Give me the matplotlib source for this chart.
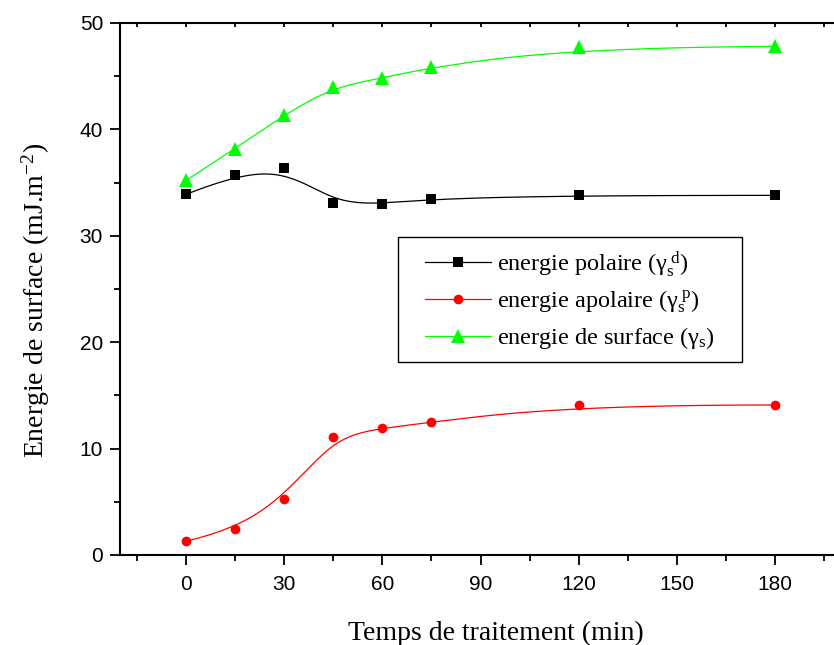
import numpy as np
import matplotlib
matplotlib.use("Agg")
import matplotlib.pyplot as plt
from matplotlib.patches import Rectangle
from matplotlib.lines import TICKDOWN

plt.rcParams["font.family"] = ["Liberation Serif", "DejaVu Serif"]
plt.rcParams["mathtext.fontset"] = "custom"
plt.rcParams["mathtext.rm"] = "Liberation Serif"
plt.rcParams["mathtext.it"] = "Liberation Serif:italic"

# Treatment time (min)
temps = [0, 15, 30, 45, 60, 75, 120, 180]
# Surface energy components (mJ.m-2)
polaire = [33.9, 35.7, 36.4, 33.1, 33.0, 33.5, 33.8, 33.8]
apolaire = [1.3, 2.4, 5.3, 11.1, 11.9, 12.5, 14.1, 14.1]
surface = [35.2, 38.2, 41.4, 44.0, 44.8, 45.9, 47.7, 47.8]

x_ticks = [0, 30, 60, 90, 120, 150, 180]
y_ticks = [0, 10, 20, 30, 40, 50]


def bspline(xs, ys, num=400, k=3):
    """Clamped uniform B-spline using the data points as control points."""
    P = np.column_stack([xs, ys]).astype(float)
    n = len(P)
    inner = np.linspace(0, 1, n - k + 1)
    knots = np.concatenate([[0] * k, inner, [1] * k])
    out = []
    for t in np.linspace(0, 1, num):
        s = n - 1 if t >= 1 else np.searchsorted(knots, t, side="right") - 1
        d = [P[j + s - k].copy() for j in range(k + 1)]
        for r in range(1, k + 1):
            for j in range(k, r - 1, -1):
                i = j + s - k
                denom = knots[i + k + 1 - r] - knots[i]
                a = 0 if denom == 0 else (t - knots[i]) / denom
                d[j] = (1 - a) * d[j - 1] + a * d[j]
        out.append(d[k])
    out = np.array(out)
    return out[:, 0], out[:, 1]


W, H = 834, 645
fig = plt.figure(figsize=(W / 100, H / 100), dpi=100)
px_per_min = 3.272
x_left, x_right = -20.2, 201
ax_w = (x_right - x_left) * px_per_min
ax = fig.add_axes([120 / W, 1 - 555 / H, ax_w / W, (555 - 23) / H])

series = [
    (polaire, "black", "s", 6.5, "energie polaire (γ$_{\\rm s}^{\\ \\rm d}$)"),
    (apolaire, "#ff0000", "o", 7.0, "energie apolaire (γ$_{\\rm s}^{\\ \\rm p}$)"),
    (surface, "#00ff00", "^", 10.5, "energie de surface (γ$_{\\rm s}$)"),
]
handles = []
for vals, col, mk, ms, lab in series:
    cx, cy = bspline(temps, vals)
    ax.plot(cx, cy, color=col, lw=0.9, zorder=2)
    ax.plot(temps, vals, linestyle="none", marker=mk, ms=ms, color=col,
            markeredgewidth=0, zorder=3)
    h, = ax.plot([], [], color=col, lw=0.9, marker=mk, ms=ms,
                 markeredgewidth=0, label=lab)
    handles.append(h)

ax.set_xlim(x_left, x_right)
ax.set_ylim(0, 50)
ax.set_xticks(x_ticks)
ax.set_xticks(np.arange(-15, 200, 15), minor=True)
ax.set_yticks(y_ticks)
ax.set_yticks(np.arange(5, 50, 10), minor=True)

for sp in ax.spines.values():
    sp.set_linewidth(1.5)

ax.tick_params(axis="both", which="major", direction="out", length=7.2, width=1.3,
               labelsize=15, labelfontfamily="Liberation Sans")
ax.tick_params(axis="x", which="major", pad=7.5)
ax.tick_params(axis="y", which="major", pad=5)
ax.tick_params(axis="both", which="minor", direction="out", length=4.5, width=1.3)
ax.tick_params(axis="x", which="both", top=True, labeltop=False)
# top ticks point inward
for t in ax.xaxis.get_major_ticks() + ax.xaxis.get_minor_ticks():
    t.tick2line.set_marker(TICKDOWN)
    t.tick2line.set_markersize(3)

ax.set_xlabel("Temps de traitement (min)", fontsize=20, labelpad=19)
ax.xaxis.label.set_x((496 - 120) / ax_w)
ax.set_ylabel("Energie de surface (mJ.m$^{-2}$)", fontsize=20, labelpad=20)
ax.yaxis.label.set_y((555 - 300) / 532)

# legend box
fig.patches.append(Rectangle((398 / W, 1 - 362 / H), 344 / W, 125 / H,
                             transform=fig.transFigure, fill=False,
                             edgecolor="black", lw=1.0, zorder=5))
leg = ax.legend(handles=handles, loc="center left",
                bbox_to_anchor=(425 / W, 1 - 300 / H),
                bbox_transform=fig.transFigure,
                fontsize=17.5, frameon=False, handlelength=2.7,
                handletextpad=0.25, borderpad=0, labelspacing=0.42,
                borderaxespad=0)

fig.savefig("out.png", dpi=100)
